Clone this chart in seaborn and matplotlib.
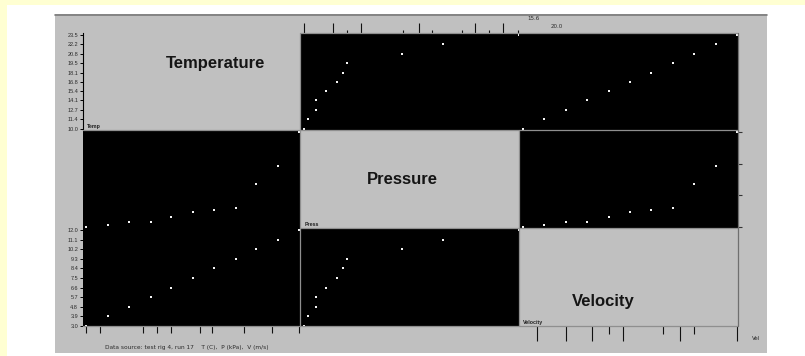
import matplotlib
matplotlib.use("Agg")
import matplotlib.pyplot as plt
from matplotlib.patches import Rectangle
from matplotlib.lines import Line2D
import seaborn as sns
import pandas as pd

# ---- data -------------------------------------------------------------
variables = ["Temperature", "Pressure", "Velocity"]
short_names = ["Temp", "Press", "Velocity"]
temperature = [10.0, 11.4, 12.7, 14.1, 15.4, 16.8, 18.1, 19.5, 20.8, 22.2, 23.5]
pressure = [5.0, 5.3, 5.8, 5.8, 6.5, 7.3, 7.7, 8.0, 11.8, 14.7, 20.0]
velocity = [3.0, 3.9, 4.8, 5.7, 6.6, 7.5, 8.4, 9.3, 10.2, 11.1, 12.0]

# axis tick values
bottom_temp_ticks = [10.0, 10.9, 13.6, 14.5, 15.4, 17.2, 18.0, 20.0, 21.8, 23.5]
bottom_vel_major = [3.6, 4.8, 5.9, 7.2, 9.6, 12.0]
bottom_vel_minor = [6.6, 8.9, 10.2]
top_press_major = [5.0, 7.0, 9.0, 13.0, 16.9, 18.9]
top_press_minor = [8.0, 11.9, 13.9, 16.0, 17.9, 19.9]
right_press_ticks = [5, 10, 15, 20]

df = pd.DataFrame({"Temperature": temperature,
                   "Pressure": pressure,
                   "Velocity": velocity})

# ---- figure ----------------------------------------------------------
W, H = 805, 356
sns.set_style("white")
plt.rcParams["font.family"] = ["Liberation Sans", "DejaVu Sans"]
fig = plt.figure(figsize=(W / 100, H / 100), dpi=100)
fig.patch.set_facecolor("#FFFFD2")


def frect(x0, y0, x1, y1):
    return [x0 / W, 1 - y1 / H, (x1 - x0) / W, (y1 - y0) / H]


def fline(x0, y0, x1, y1, color="#8f8f8f", lw=0.9):
    fig.add_artist(Line2D([x0 / W, x1 / W], [1 - y0 / H, 1 - y1 / H],
                          transform=fig.transFigure, color=color, lw=lw,
                          zorder=3))


# page and panel backgrounds
fig.add_artist(Rectangle((7 / W, 0), 1 - 7 / W, 1 - 5 / H,
                         transform=fig.transFigure, facecolor="white",
                         edgecolor="none", zorder=-3))
fig.add_artist(Rectangle((55 / W, 1 - 353 / H), (767 - 55) / W, (353 - 14) / H,
                         transform=fig.transFigure, facecolor="#C0C0C0",
                         edgecolor="none", zorder=-2))
fline(55, 14.5, 767, 14.5, color="#7a7a7a", lw=1.2)

col_px = [(83, 300), (300, 519), (519, 738)]
row_px = [(33, 130), (130, 228), (228, 326)]

# padding of each variable's range (low, high) as fractions of its span
col_pad = [(0.014, 0.005), (0.019, 0.0), (0.019, 0.005)]
row_pad = [(0.011, 0.021), (0.011, 0.021), (0.0, 0.021)]


def limits(values, pad):
    lo, hi = min(values), max(values)
    span = hi - lo
    return lo - pad[0] * span, hi + pad[1] * span


label_pos = [(0.613, 0.69), (0.466, 0.50), (0.384, 0.255)]

axes = {}
for i, yvar in enumerate(variables):
    for j, xvar in enumerate(variables):
        (x0, x1), (y0, y1) = col_px[j], row_px[i]
        ax = fig.add_axes(frect(x0, y0, x1, y1))
        axes[(i, j)] = ax
        ax.set_xlim(*limits(df[xvar], col_pad[j]))
        ax.set_ylim(*limits(df[yvar], row_pad[i]))
        ax.set_xticks([])
        ax.set_yticks([])
        for s in ax.spines.values():
            s.set_visible(False)
        if i == j:
            ax.set_facecolor("#C0C0C0")
            fx, fy = label_pos[i]
            ax.text(fx, fy, yvar, transform=ax.transAxes, ha="center",
                    va="center", fontsize=12, fontweight="bold",
                    color="#151515")
            ax.text(0.02, 0.015, short_names[i], transform=ax.transAxes,
                    ha="left", va="bottom", fontsize=3.8, fontweight="bold",
                    color="#202020")
        else:
            ax.set_facecolor("black")
            sns.scatterplot(data=df, x=xvar, y=yvar, ax=ax, marker="s", s=3,
                            color="#f4f4f4", linewidth=0, clip_on=False,
                            zorder=5)
            ax.set_xlabel("")
            ax.set_ylabel("")

tick_font = dict(labelsize=4, labelcolor="#2a2a2a")

# left axis of the top row: temperature
ax = axes[(0, 0)]
ax.spines["left"].set_visible(True)
ax.spines["left"].set_color("black")
ax.spines["left"].set_linewidth(0.8)
ax.set_yticks(temperature)
ax.set_yticklabels([f"{t:.1f}" for t in temperature])
ax.tick_params(axis="y", left=True, direction="out", length=2.5, width=0.7,
               color="black", pad=1, **tick_font)

# left axis of the bottom row: velocity
ax = axes[(2, 0)]
ax.set_yticks(velocity)
ax.set_yticklabels([f"{v:.1f}" for v in velocity])
ax.tick_params(axis="y", left=True, direction="out", length=2.5, width=0.7,
               color="black", pad=1, **tick_font)

# bottom axis, temperature column
ax.set_xticks(bottom_temp_ticks)
ax.set_xticklabels([])
ax.tick_params(axis="x", bottom=True, direction="out", length=5, width=0.8,
               color="#111")

# bottom axis, velocity column
ax = axes[(2, 2)]
ax.set_xticks(bottom_vel_major)
ax.set_xticks(bottom_vel_minor, minor=True)
ax.set_xticklabels([])
ax.tick_params(axis="x", which="major", bottom=True, direction="out",
               length=11, width=0.8, color="#111")
ax.tick_params(axis="x", which="minor", bottom=True, direction="out",
               length=6, width=0.8, color="#111")

# top axis, pressure column
ax = axes[(0, 1)]
ax.xaxis.tick_top()
ax.set_xticks(top_press_major)
ax.set_xticks(top_press_minor, minor=True)
ax.set_xticklabels([])
ax.tick_params(axis="x", which="major", direction="out", length=7,
               width=0.8, color="#111")
ax.tick_params(axis="x", which="minor", direction="out", length=2.5,
               width=0.8, color="#111")

# right axis, pressure row
ax = axes[(1, 2)]
ax.yaxis.tick_right()
ax.set_yticks(right_press_ticks)
ax.set_yticklabels([])
ax.tick_params(axis="y", direction="out", length=3, width=0.8,
               color="#333")

# panel separators
fline(300, 33, 738, 33)
fline(83, 130, 738, 130)
fline(300, 228, 738, 228)
fline(83, 326, 738, 326)
fline(300, 33, 300, 326)
fline(519, 130, 519, 326)
fline(738, 33, 738, 326, color="#6f6f6f")

# small annotations around the matrix
fig.text(527 / W, 1 - 19 / H, "15.6", fontsize=4, color="#2a2a2a",
         va="center", family="DejaVu Sans")
fig.text(551 / W, 1 - 27 / H, "20.0", fontsize=4, color="#2a2a2a",
         va="center", family="DejaVu Sans")
fig.text(752 / W, 1 - 338 / H, "Vel", fontsize=4, color="#2a2a2a",
         va="center", family="DejaVu Sans")
fig.text(105 / W, 1 - 348 / H,
         "Data source: test rig 4, run 17    T (C),  P (kPa),  V (m/s)",
         fontsize=4.2, color="#2a2a2a", va="center", family="DejaVu Sans")

fig.savefig("out.png", dpi=100, facecolor=fig.get_facecolor())
